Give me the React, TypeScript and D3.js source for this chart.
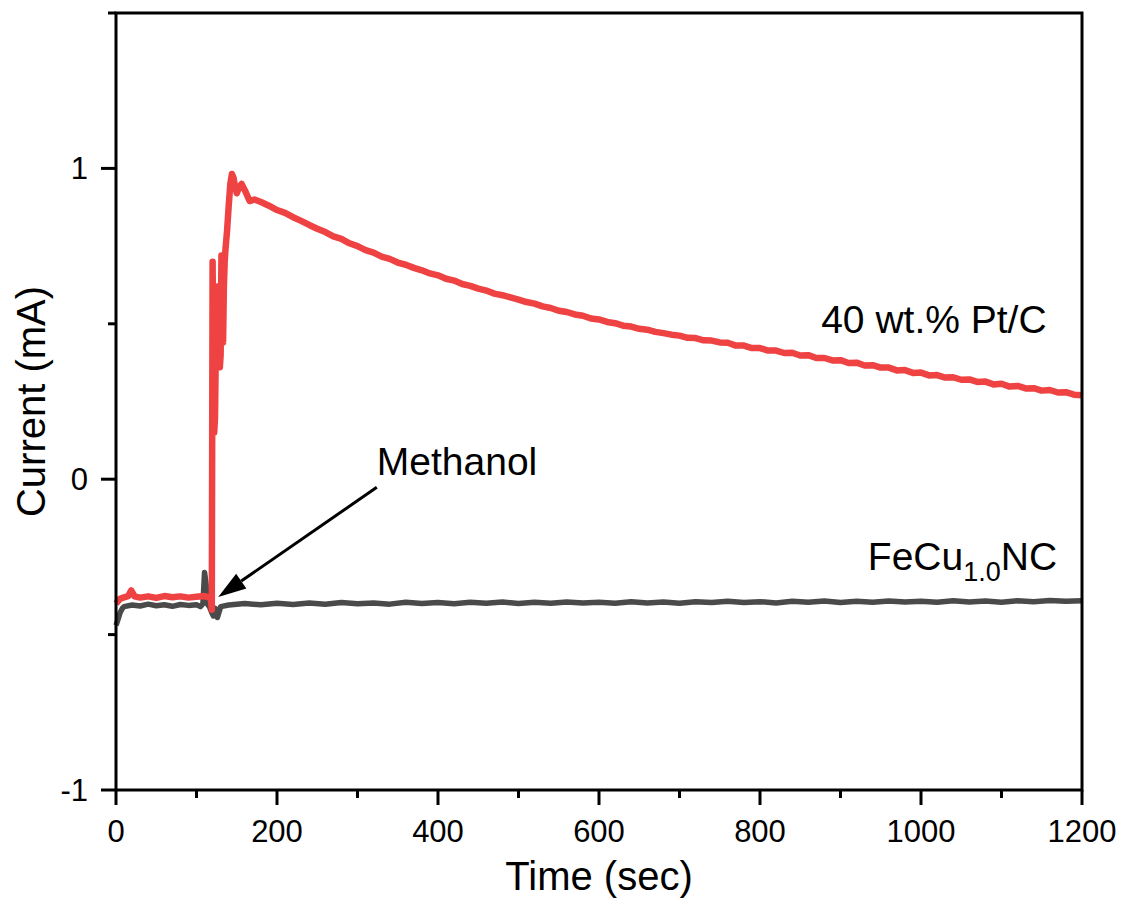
import React from 'react'
import * as d3 from 'd3'

// Pt/C chronoamperometry, methanol added at ~120 s
const ptTime = [
  0, 5, 10, 15, 19, 23, 30, 40, 50, 60, 70, 80, 90, 100, 110, 115, 118,
  119, 120, 121, 122, 123, 124, 125, 126, 127, 128, 129, 130, 131, 132, 133, 134, 135, 136, 138, 140, 142, 144, 146, 148, 150, 153, 156, 160, 166, 172, 180,
  190, 200, 210, 220, 230, 240, 250, 260, 270, 280, 290, 300, 310, 320, 330, 340, 350, 360, 370, 380, 390, 400,
  410, 420, 430, 440, 450, 460, 470, 480, 490, 500, 510, 520, 530, 540, 550, 560, 570, 580, 590, 600,
  610, 620, 630, 640, 650, 660, 670, 680, 690, 700, 710, 720, 730, 740, 750, 760, 770, 780, 790, 800,
  810, 820, 830, 840, 850, 860, 870, 880, 890, 900, 910, 920, 930, 940, 950, 960, 970, 980, 990, 1000,
  1010, 1020, 1030, 1040, 1050, 1060, 1070, 1080, 1090, 1100, 1110, 1120, 1130, 1140, 1150, 1160, 1170, 1180, 1190, 1200
]
const ptCurrent = [
  -0.40, -0.385, -0.38, -0.376, -0.358, -0.377, -0.381, -0.377, -0.382, -0.376, -0.380, -0.377, -0.381, -0.378, -0.376, -0.380, -0.385,
  -0.42, 0.70, 0.30, 0.15, 0.20, 0.42, 0.55, 0.62, 0.50, 0.42, 0.36, 0.40, 0.72, 0.55, 0.44, 0.62, 0.70, 0.74, 0.80, 0.88, 0.95, 0.982, 0.97, 0.94, 0.92, 0.94, 0.95, 0.93, 0.895, 0.90, 0.892,
  0.880, 0.866, 0.857, 0.843, 0.831, 0.818, 0.806, 0.795, 0.781, 0.773, 0.759, 0.750, 0.737, 0.729, 0.716, 0.709, 0.697, 0.690, 0.680, 0.672, 0.662, 0.656,
  0.645, 0.639, 0.628, 0.622, 0.613, 0.607, 0.597, 0.592, 0.585, 0.578, 0.570, 0.565, 0.556, 0.551, 0.542, 0.538, 0.530, 0.526, 0.517, 0.514,
  0.506, 0.502, 0.494, 0.491, 0.484, 0.481, 0.474, 0.470, 0.465, 0.462, 0.455, 0.454, 0.447, 0.446, 0.440, 0.439, 0.430, 0.430, 0.422, 0.422,
  0.414, 0.414, 0.406, 0.407, 0.398, 0.399, 0.390, 0.390, 0.382, 0.383, 0.374, 0.375, 0.366, 0.367, 0.359, 0.359, 0.350, 0.351, 0.342, 0.343,
  0.334, 0.335, 0.327, 0.328, 0.320, 0.321, 0.313, 0.314, 0.305, 0.307, 0.298, 0.300, 0.292, 0.293, 0.285, 0.287, 0.279, 0.280, 0.272, 0.270
]

// FeCu1.0NC
const feTime = [
  0, 2, 5, 8, 10, 20, 30, 40, 50, 60, 70, 80, 90, 100, 105, 108, 110, 112, 113, 116, 119, 121, 123, 126, 130, 140,
  160, 180, 200, 220, 240, 260, 280, 300, 320, 340, 360, 380, 400, 420, 440, 460, 480, 500, 520, 540, 560, 580, 600,
  620, 640, 660, 680, 700, 720, 740, 760, 780, 800, 820, 840, 860, 880, 900, 920, 940, 960, 980, 1000,
  1020, 1040, 1060, 1080, 1100, 1120, 1140, 1160, 1180, 1200
]
const feCurrent = [
  -0.47, -0.455, -0.43, -0.415, -0.41, -0.405, -0.408, -0.402, -0.407, -0.404, -0.409, -0.403, -0.406, -0.404, -0.41, -0.40, -0.30, -0.34, -0.40, -0.41, -0.43, -0.44, -0.415, -0.445, -0.41, -0.405,
  -0.400, -0.404, -0.399, -0.403, -0.398, -0.402, -0.397, -0.401, -0.398, -0.402, -0.396, -0.400, -0.397, -0.401, -0.396, -0.399, -0.395, -0.400, -0.396, -0.399, -0.395, -0.398, -0.396,
  -0.399, -0.394, -0.398, -0.395, -0.399, -0.394, -0.397, -0.393, -0.397, -0.394, -0.398, -0.393, -0.396, -0.392, -0.397, -0.393, -0.396, -0.392, -0.395, -0.393,
  -0.396, -0.391, -0.395, -0.392, -0.396, -0.391, -0.394, -0.390, -0.393, -0.391
]

const xMajor = [0, 200, 400, 600, 800, 1000, 1200]
const xMinor = [100, 300, 500, 700, 900, 1100]
const yMajor = [-1, 0, 1]
const yMinor = [-0.5, 0.5, 1.5]

const width = 1124
const height = 901
const margin = { top: 13, right: 42, bottom: 111, left: 116 }
const font = 'Liberation Sans, Arial, Helvetica, sans-serif'

const xScale = d3.scaleLinear().domain([0, 1200]).range([margin.left, width - margin.right])
const yScale = d3.scaleLinear().domain([-1, 1.5]).range([height - margin.bottom, margin.top])

const line = d3.line<[number, number]>()
  .x(d => xScale(d[0]))
  .y(d => yScale(d[1]))

const ptPath = line(ptTime.map((t, i) => [t, ptCurrent[i]]))
const fePath = line(feTime.map((t, i) => [t, feCurrent[i]]))

export default function App() {
  const x0 = xScale(0)
  const x1 = xScale(1200)
  const y0 = yScale(-1)
  const y1 = yScale(1.5)

  // arrow from label down to the injection point
  const tipX = xScale(127), tipY = yScale(-0.379)
  const tailX = xScale(324), tailY = yScale(-0.026)
  const ang = Math.atan2(tipY - tailY, tipX - tailX)
  const headLen = 28
  const headHalf = 9
  const bx = tipX - headLen * Math.cos(ang)
  const by = tipY - headLen * Math.sin(ang)
  const head = [
    [tipX, tipY],
    [bx + headHalf * Math.sin(ang), by - headHalf * Math.cos(ang)],
    [bx - headHalf * Math.sin(ang), by + headHalf * Math.cos(ang)]
  ].map(p => p.join(',')).join(' ')

  return (
    <svg width={width} height={height} style={{ position: 'absolute', left: 0, top: 0, background: '#fff' }}
      fontFamily={font}>
      <path d={fePath || ''} fill="none" stroke="#4a4a4a" strokeWidth={5.5} strokeLinejoin="round" />
      <path d={ptPath || ''} fill="none" stroke="#ef4242" strokeWidth={6.5} strokeLinejoin="round" />

      {/* frame */}
      <rect x={x0} y={y1} width={x1 - x0} height={y0 - y1} fill="none" stroke="#000" strokeWidth={3} />

      {xMajor.map(t => (
        <g key={'xM' + t}>
          <line x1={xScale(t)} x2={xScale(t)} y1={y0} y2={y0 + 15} stroke="#000" strokeWidth={3} />
          <text x={xScale(t)} y={y0 + 52} fontSize={31} textAnchor="middle" fill="#000">{t}</text>
        </g>
      ))}
      {xMinor.map(t => (
        <line key={'xm' + t} x1={xScale(t)} x2={xScale(t)} y1={y0} y2={y0 + 8} stroke="#000" strokeWidth={3} />
      ))}
      {yMajor.map(v => (
        <g key={'yM' + v}>
          <line x1={x0 - 15} x2={x0} y1={yScale(v)} y2={yScale(v)} stroke="#000" strokeWidth={3} />
          <text x={x0 - 28} y={yScale(v) + 11} fontSize={31} textAnchor="end" fill="#000">{v}</text>
        </g>
      ))}
      {yMinor.map(v => (
        <line key={'ym' + v} x1={x0 - 8} x2={x0} y1={yScale(v)} y2={yScale(v)} stroke="#000" strokeWidth={3} />
      ))}

      <text x={(x0 + x1) / 2} y={890} fontSize={40} textAnchor="middle" fill="#000">Time (sec)</text>
      <text transform={`translate(45,${(y0 + y1) / 2}) rotate(-90)`} fontSize={40} textAnchor="middle" fill="#000">Current (mA)</text>

      <text x={xScale(876)} y={yScale(0.469)} fontSize={39} fill="#000">40 wt.% Pt/C</text>
      <text x={xScale(934)} y={yScale(-0.292)} fontSize={39} fill="#000">
        FeCu<tspan fontSize={27} dy={11}>1.0</tspan><tspan dy={-11}>NC</tspan>
      </text>
      <text x={xScale(324)} y={yScale(0.013)} fontSize={39} fill="#000">Methanol</text>

      <line x1={tailX} y1={tailY} x2={bx} y2={by} stroke="#000" strokeWidth={3} />
      <polygon points={head} fill="#000" />
    </svg>
  )
}
